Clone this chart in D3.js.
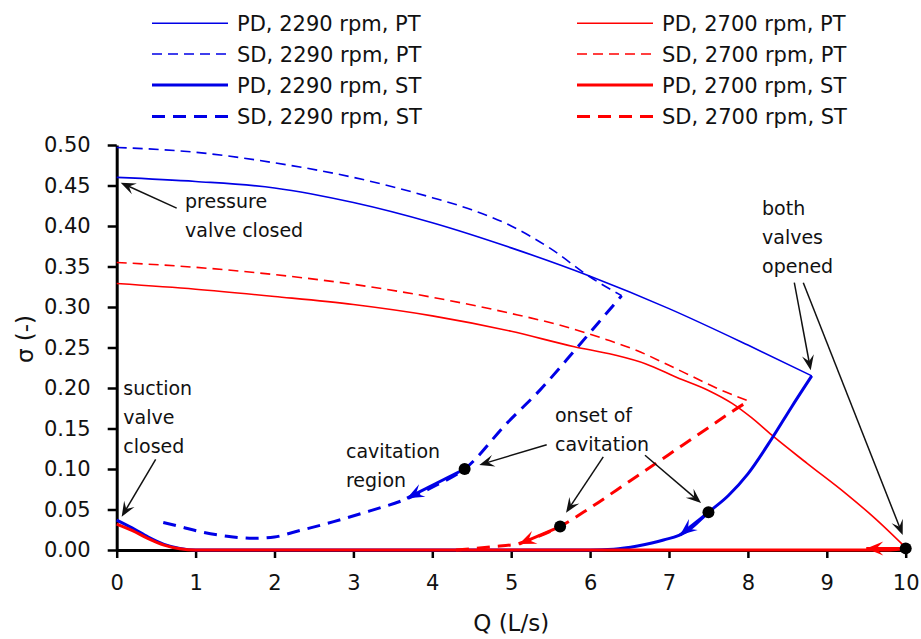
<!DOCTYPE html>
<html>
<head>
<meta charset="utf-8">
<title>Cavitation number vs flow rate</title>
<style>
  body { margin: 0; background: #fff; }
  text { font-family: "DejaVu Sans", sans-serif; fill: #111; }
  .axis path, .axis line { stroke: #000; }
  .axis path { stroke-width: 3px; }
  .axis line { stroke-width: 2.5px; }
  .axis text { font-size: 21px; fill: #111; }
</style>
</head>
<body>
<div class="container"></div>
<script src="https://cdn.jsdelivr.net/npm/d3@7"></script>
<script>

// ---- data (Q in L/s, sigma) ----
var pd2290PT = [[0,0.460],[1,0.455],[2,0.447],[3,0.429],[4,0.404],[5,0.373],[6,0.338],[7,0.298],[8,0.253],[8.81,0.215]];
var sd2290PT = [[0,0.497],[1,0.491],[2,0.478],[3,0.460],[4,0.435],[4.5,0.420],[5,0.400],[5.5,0.372],[6,0.337],[6.4,0.314]];
var pd2700PT = [[0,0.329],[1,0.322],[2,0.313],[3,0.303],[4,0.289],[5,0.270],[5.8,0.251],[6.3,0.241],[6.7,0.230],[7.1,0.213],[7.5,0.197],[7.8,0.181],[8.05,0.163],[8.3,0.142],[8.75,0.107],[9.25,0.069],[9.6,0.040],[10,0.003]];
var sd2700PT = [[0,0.355],[1,0.349],[2,0.340],[3,0.328],[4,0.312],[5,0.292],[5.6,0.278],[6.2,0.260],[6.6,0.246],[7.0,0.228],[7.3,0.214],[7.6,0.200],[8.01,0.184]];

var pd2290ST = [[0,0.037],[0.2,0.027],[0.4,0.016],[0.6,0.007],[0.8,0.002],[1.0,0],[6.0,0],[6.3,0.001],[6.6,0.005],[6.93,0.0123],[7.22,0.0226],[7.5,0.0465],[7.75,0.067],[8.0,0.094],[8.3,0.137],[8.55,0.176],[8.81,0.215]];
var sd2290ST = [[0.59,0.034],[0.8,0.029],[1.06,0.0226],[1.4,0.017],[1.73,0.0144],[2.0,0.016],[2.24,0.022],[2.75,0.035],[3.2,0.048],[3.7,0.064],[4.05,0.08],[4.41,0.100],[4.94,0.156],[5.37,0.198],[5.81,0.247],[6.1,0.28],[6.4,0.314]];
var pd2700ST = [[0,0.032],[0.2,0.024],[0.4,0.014],[0.6,0.006],[0.8,0.0015],[1.0,0],[9.8,0],[10,0.002]];
var sd2700ST = [[4.3,0],[4.5,0.0015],[4.75,0.004],[5.1,0.0082],[5.3,0.015],[5.62,0.029],[6.0,0.052],[6.5,0.085],[7.0,0.118],[7.5,0.151],[7.8,0.171],[8.01,0.184]];

var legendLabels = ["PD, 2290 rpm, PT","SD, 2290 rpm, PT","PD, 2290 rpm, ST","SD, 2290 rpm, ST",
                    "PD, 2700 rpm, PT","SD, 2700 rpm, PT","PD, 2700 rpm, ST","SD, 2700 rpm, ST"];

var xTicks = [0,1,2,3,4,5,6,7,8,9,10];
var yTicks = [0,0.05,0.10,0.15,0.20,0.25,0.30,0.35,0.40,0.45,0.50];

// onset-of-cavitation / end points
var dots = [[4.41,0.100],[5.62,0.029],[7.5,0.0465],[10,0.002]];
// direction arrows along the ST curves: [from, to]
var flowArrows = [
  [[4.41,0.100],[3.68,0.064]],
  [[5.62,0.029],[5.10,0.0074]],
  [[7.5,0.0465],[7.14,0.0185]],
  [[10,0.002],[9.5,0.002]]
];
var flowArrowColors = ["#0000e6","#ff0000","#0000e6","#ff0000"];

// annotation text (anchor in data units) and pointer arrows [tail, tip]
var notes = [
  {lines:["pressure","valve closed"], at:[0.866,0.422]},
  {lines:["suction","valve","closed"], at:[0.084,0.191]},
  {lines:["cavitation","region"], at:[2.906,0.113]},
  {lines:["onset of","cavitation"], at:[5.555,0.158]},
  {lines:["both","valves","opened"], at:[8.179,0.414]}
];
var pointers = [
  [[0.760,0.422],[0.051,0.4535]],
  [[0.494,0.112],[0.063,0.041]],
  [[5.450,0.130],[4.596,0.105]],
  [[6.167,0.115],[5.695,0.046]],
  [[6.696,0.117],[7.406,0.058]],
  [[8.588,0.330],[8.796,0.222]],
  [[8.702,0.330],[9.962,0.0185]]
];

// ---- layout ----
var svgWidth = 921, svgHeight = 639;
var margin = {left: 116.7, right: 15.3, top: 145, bottom: 89};

var svg = d3.select('.container').append('svg')
  .attr('width', svgWidth).attr('height', svgHeight);

var x = d3.scaleLinear().domain([0,10]).range([margin.left, svgWidth - margin.right]);
var y = d3.scaleLinear().domain([0,0.5]).range([svgHeight - margin.bottom, margin.top]);

var blue = "#0000e6", red = "#ff0000";

// axes
svg.append('g').attr('class','axis')
  .attr('transform', `translate(0,${y(0)})`)
  .call(d3.axisBottom(x).tickValues(xTicks).tickFormat(d3.format('d')).tickSizeInner(8).tickSizeOuter(0).tickPadding(17));

svg.append('g').attr('class','axis')
  .attr('transform', `translate(${x(0)},0)`)
  .call(d3.axisLeft(y).tickValues(yTicks).tickFormat(d3.format('.2f')).tickSizeInner(9).tickSizeOuter(0).tickPadding(17));

svg.append('text')
  .attr('x', (x(0)+x(10))/2).attr('y', 631)
  .attr('text-anchor','middle').attr('font-size', 23)
  .text('Q (L/s)');

svg.append('text')
  .attr('transform','translate(33,339) rotate(-90)')
  .attr('text-anchor','middle').attr('font-size', 23)
  .text('σ (-)');

// series, in the same order as legendLabels
var line = d3.line().x(d => x(d[0])).y(d => y(d[1])).curve(d3.curveMonotoneX);

var series = [
  {data: pd2290PT, color: blue, w: 1.6, dash: null},
  {data: sd2290PT, color: blue, w: 1.6, dash: "10,6"},
  {data: pd2290ST, color: blue, w: 3, dash: null},
  {data: sd2290ST, color: blue, w: 3, dash: "13,8"},
  {data: pd2700PT, color: red,  w: 1.6, dash: null},
  {data: sd2700PT, color: red,  w: 1.6, dash: "10,6"},
  {data: pd2700ST, color: red,  w: 3, dash: null},
  {data: sd2700ST, color: red,  w: 3, dash: "13,8"}
];
// drawing order: thin curves first, thick transient curves on top
var drawOrder = [0,1,4,5,2,3,7,6];

svg.append('g').selectAll('path')
  .data(drawOrder.map(i => series[i])).enter().append('path')
  .attr('d', d => line(d.data))
  .attr('fill','none')
  .attr('stroke', d => d.color)
  .attr('stroke-width', d => d.w)
  .attr('stroke-dasharray', d => d.dash);

// arrowhead helper (stealth shape)
function head(g, tip, tail, len, wid, color) {
  var ang = Math.atan2(tip[1]-tail[1], tip[0]-tail[0]) * 180 / Math.PI;
  g.append('path')
    .attr('d', `M0,0 L${-len},${-wid/2} L${-len*0.6},0 L${-len},${wid/2} Z`)
    .attr('transform', `translate(${tip[0]},${tip[1]}) rotate(${ang})`)
    .attr('fill', color);
}

// flow direction arrows
var fa = svg.append('g');
flowArrows.forEach(function(a, i) {
  var p0 = [x(a[0][0]), y(a[0][1])], p1 = [x(a[1][0]), y(a[1][1])];
  fa.append('line')
    .attr('x1', p0[0]).attr('y1', p0[1]).attr('x2', p1[0]).attr('y2', p1[1])
    .attr('stroke', flowArrowColors[i]).attr('stroke-width', 3);
  head(fa, p1, p0, 17, 14, flowArrowColors[i]);
});

// dots
svg.append('g').selectAll('circle')
  .data(dots).enter().append('circle')
  .attr('cx', d => x(d[0])).attr('cy', d => y(d[1]))
  .attr('r', 6).attr('fill', '#000');

// pointers
var pg = svg.append('g');
pointers.forEach(function(p) {
  var t0 = [x(p[0][0]), y(p[0][1])], t1 = [x(p[1][0]), y(p[1][1])];
  var dx = t1[0]-t0[0], dy = t1[1]-t0[1], L = Math.sqrt(dx*dx+dy*dy);
  pg.append('line')
    .attr('x1', t0[0]).attr('y1', t0[1])
    .attr('x2', t1[0] - dx/L*8).attr('y2', t1[1] - dy/L*8)
    .attr('stroke', '#111').attr('stroke-width', 1.5);
  head(pg, t1, t0, 15, 12, '#111');
});

// annotation text
notes.forEach(function(n) {
  var t = svg.append('text')
    .attr('x', x(n.at[0])).attr('y', y(n.at[1]))
    .attr('font-size', 19);
  n.lines.forEach(function(s, i) {
    t.append('tspan').attr('x', x(n.at[0])).attr('dy', i ? 29 : 0).text(s);
  });
});

// legend: blue series in the left column, red in the right
var leg = svg.append('g');
series.forEach(function(s, i) {
  var col = i < 4 ? 0 : 1, row = i % 4;
  var lx = col ? 577 : 152, ty = [23.3, 54, 85, 116.5][row];
  leg.append('line')
    .attr('x1', lx).attr('x2', lx + 76).attr('y1', ty).attr('y2', ty)
    .attr('stroke', s.color).attr('stroke-width', s.w)
    .attr('stroke-dasharray', s.dash);
  leg.append('text')
    .attr('x', lx + 85).attr('y', ty + 7.5)
    .attr('font-size', 21)
    .text(legendLabels[i]);
});

</script>
</body>
</html>
